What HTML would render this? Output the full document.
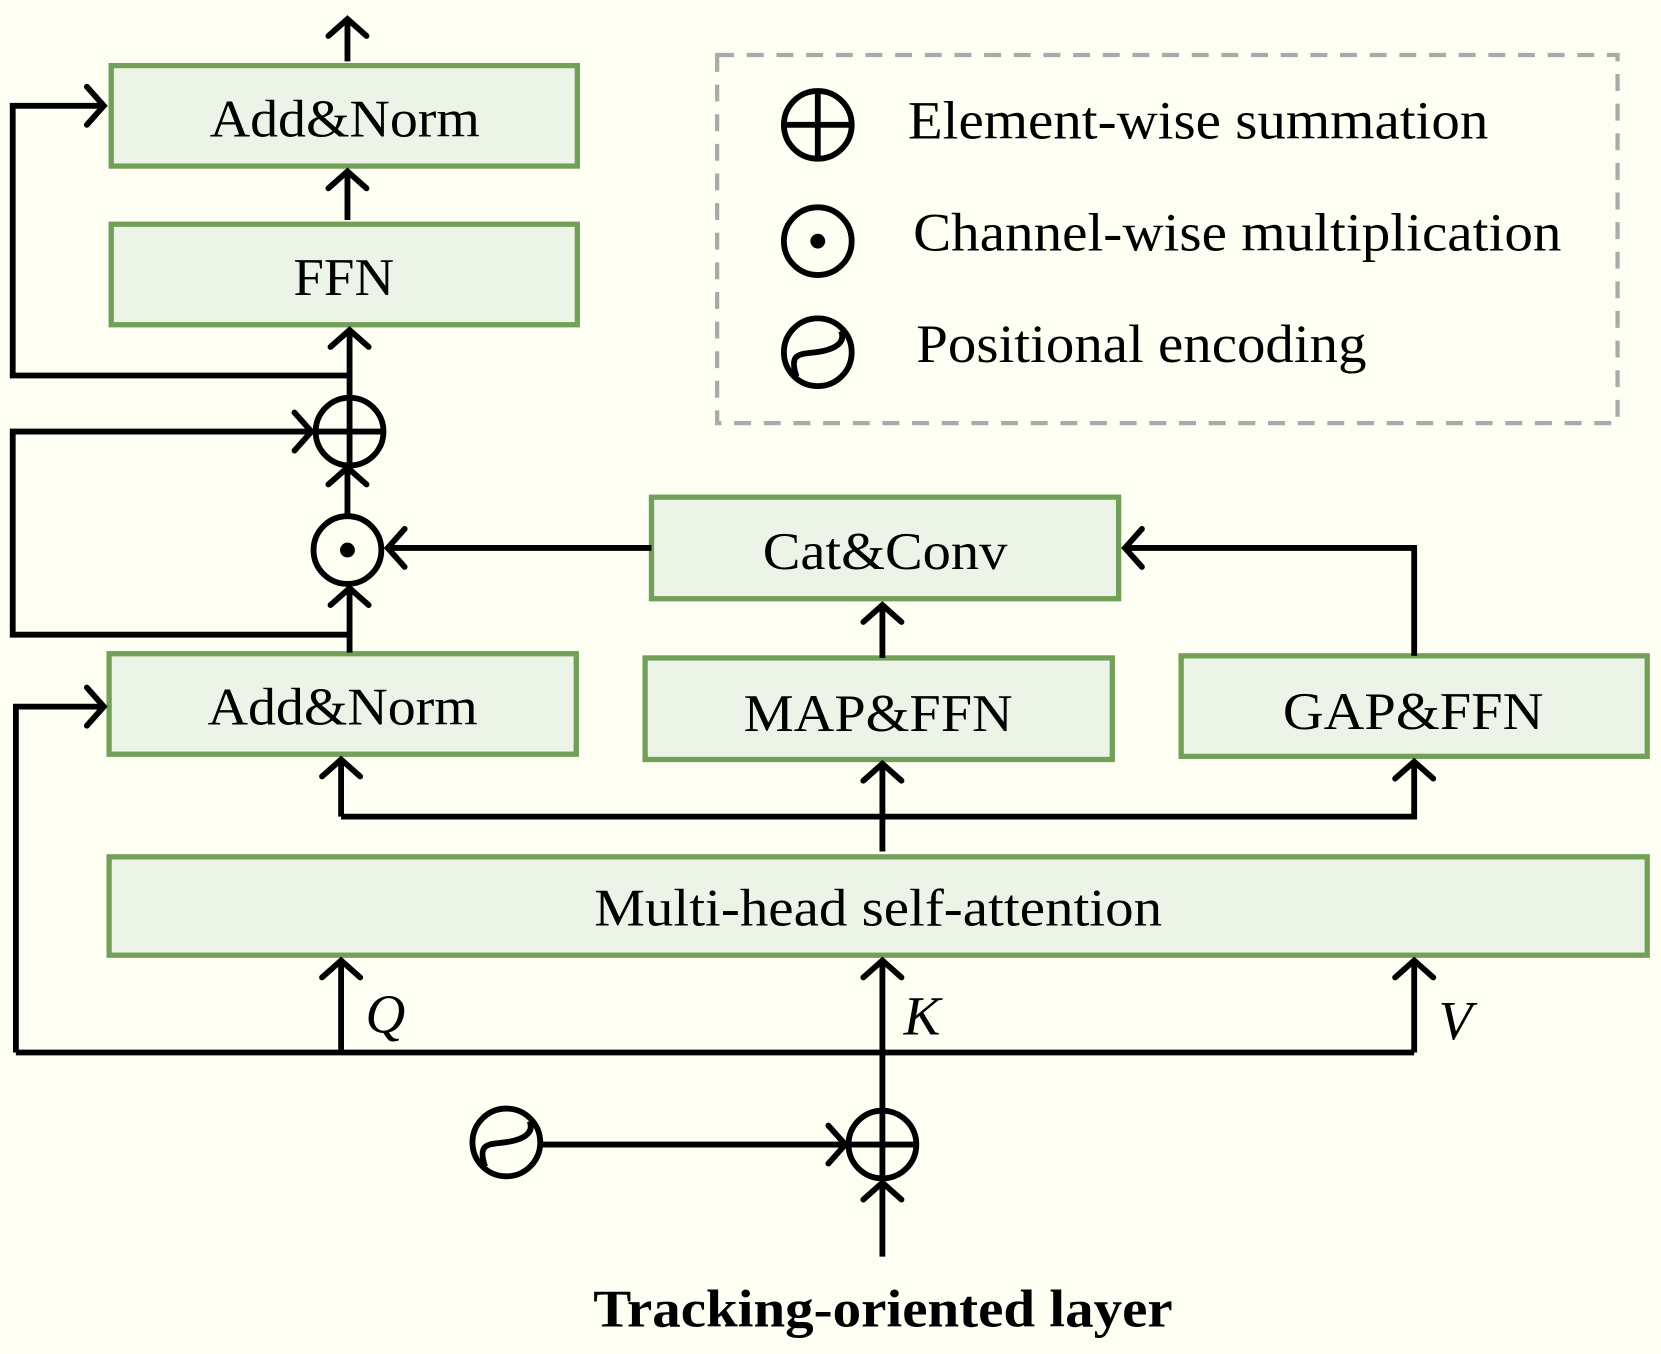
<!DOCTYPE html>
<html><head><meta charset="utf-8"><style>
html,body{margin:0;padding:0;background:#fefff2;}
svg{display:block;}
text{font-family:"Liberation Serif",serif;fill:#000;}
</style></head><body>
<svg width="1661" height="1354" viewBox="0 0 1568 1280" preserveAspectRatio="none" xmlns="http://www.w3.org/2000/svg">
<defs>
<marker id="a" markerUnits="userSpaceOnUse" markerWidth="44" markerHeight="44" refX="22" refY="22" orient="auto" viewBox="0 0 44 44">
<path d="M6,4 L22,22 L6,40" fill="none" stroke="#000" stroke-width="5.5" stroke-linecap="round" stroke-linejoin="miter"/>
</marker>
</defs>
<rect width="1568" height="1280" fill="#fefff2"/>
<g fill="#ebf4e6" stroke="#73a058" stroke-width="5">
<rect x="105" y="62" width="440" height="95"/>
<rect x="105" y="212" width="440" height="95"/>
<rect x="615" y="470" width="441" height="96"/>
<rect x="609" y="622" width="441" height="96"/>
<rect x="1115" y="620" width="440" height="95"/>
<rect x="103" y="618" width="441" height="95"/>
<rect x="103" y="810" width="1452" height="93"/>
</g>
<g font-size="50" lengthAdjust="spacingAndGlyphs">
<text x="198" y="129" textLength="255" lengthAdjust="spacingAndGlyphs">Add&amp;Norm</text>
<text x="277" y="279" textLength="95" lengthAdjust="spacingAndGlyphs">FFN</text>
<text x="720" y="538" textLength="231" lengthAdjust="spacingAndGlyphs">Cat&amp;Conv</text>
<text x="702" y="691" textLength="254" lengthAdjust="spacingAndGlyphs">MAP&amp;FFN</text>
<text x="1211" y="689" textLength="246" lengthAdjust="spacingAndGlyphs">GAP&amp;FFN</text>
<text x="196" y="685" textLength="255" lengthAdjust="spacingAndGlyphs">Add&amp;Norm</text>
<text x="561" y="875" textLength="536" lengthAdjust="spacingAndGlyphs">Multi-head self-attention</text>
<text x="560" y="1254" font-weight="bold" textLength="547" lengthAdjust="spacingAndGlyphs">Tracking-oriented layer</text>
</g>
<g font-size="52" font-style="italic">
<text x="345" y="976">Q</text>
<text x="853" y="978">K</text>
<text x="1358" y="982">V</text>
</g>
<g fill="none" stroke="#000" stroke-width="5.5" marker-end="url(#a)">
<path d="M328,58 L328,18"/>
<path d="M328,208 L328,162"/>
<path d="M330,375 L330,312"/>
<path d="M330,355 L12,355 L12,100 L98,100"/>
<path d="M330,600 L12,600 L12,408 L294,408"/>
<path d="M328,488 L328,442"/>
<path d="M330,617 L330,556"/>
<path d="M615,518 L366,518"/>
<path d="M833,622 L833,572"/>
<path d="M1335,620 L1335,518 L1062,518"/>
<path d="M15,995 L15,668 L98,668"/>
<path d="M322,772 L322,718"/>
<path d="M833,805 L833,722"/>
<path d="M833,772 L1335,772 L1335,720"/>
<path d="M322,995 L322,908"/>
<path d="M833,1050 L833,908"/>
<path d="M1335,995 L1335,908"/>
<path d="M510,1082 L798,1082"/>
<path d="M833,1188 L833,1118"/>
</g>
<g fill="none" stroke="#000" stroke-width="5.5">
<path d="M322,772 L833,772"/>
<path d="M15,995 L1335,995"/>
<circle cx="330" cy="408" r="32"/><path d="M298,408 H362 M330,376 V440"/>
<circle cx="833" cy="1082" r="32"/><path d="M801,1082 H865 M833,1050 V1114"/>
<circle cx="772" cy="118" r="32"/><path d="M740,118 H804 M772,86 V150"/>
<circle cx="328" cy="520" r="32"/>
<circle cx="772" cy="228" r="32"/>
<circle cx="478" cy="1080" r="32"/>
<path d="M458,1103 C450,1080 462,1082 476,1080 C492,1078 505,1072 500,1060"/>
<circle cx="772" cy="333" r="32"/>
<path d="M752,356 C744,333 756,335 770,333 C786,331 799,325 794,313"/>
</g>
<circle cx="328" cy="520" r="7" fill="#000"/>
<circle cx="772" cy="228" r="7" fill="#000"/>
<rect x="677" y="52" width="850" height="348" fill="none" stroke="#aaaaaa" stroke-width="4" stroke-dasharray="16,12"/>
<g font-size="51">
<text x="857" y="131" textLength="548" lengthAdjust="spacingAndGlyphs">Element-wise summation</text>
<text x="862" y="237" textLength="612" lengthAdjust="spacingAndGlyphs">Channel-wise multiplication</text>
<text x="865" y="342" textLength="425" lengthAdjust="spacingAndGlyphs">Positional encoding</text>
</g>
</svg>
</body></html>
